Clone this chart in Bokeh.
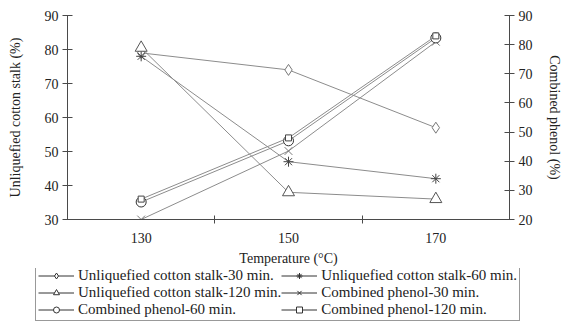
from bokeh.plotting import figure
from bokeh.models import Range1d, LinearAxis, FixedTicker, Legend, LegendItem
from bokeh.layouts import column
from bokeh.embed import file_html
from bokeh.resources import INLINE

temps = [130, 150, 170]
unliq_30 = [79, 74, 57]
unliq_60 = [78, 47, 42]
unliq_120 = [80.5, 38, 36]
phenol_30 = [20, 43.5, 81]
phenol_60 = [26, 47, 82.3]
phenol_120 = [27, 48, 83]

FONT = "Liberation Serif"
TXT = "#222222"
AX = "#4a4a4a"
LINE = "#8c8c8c"

p = figure(width=564, height=268, output_backend="svg", toolbar_location=None,
           x_range=Range1d(120, 180), y_range=Range1d(30, 90),
           min_border_left=67, min_border_right=51, min_border_top=15, min_border_bottom=49)
p.outline_line_color = None
p.grid.visible = False

p.extra_y_ranges = {"right": Range1d(20, 90)}
raxis = LinearAxis(y_range_name="right", ticker=FixedTicker(ticks=list(range(20, 91, 10))),
                   axis_label="Combined phenol (%)")
p.add_layout(raxis, "right")

xa = p.xaxis[0]
xa.ticker = FixedTicker(ticks=temps, minor_ticks=[140, 160])
xa.major_tick_out = 4
xa.minor_tick_in = 4
xa.minor_tick_out = 4
xa.major_label_standoff = 9
xa.axis_label = "Temperature (°C)"
xa.axis_label_standoff = 5

p.yaxis[0].ticker = FixedTicker(ticks=list(range(30, 91, 10)))
p.yaxis[0].axis_label = "Unliquefied cotton stalk (%)"

for ax in [xa, p.yaxis[0], raxis]:
    ax.axis_line_color = AX
    ax.major_tick_line_color = AX if ax is not xa else None
    ax.minor_tick_line_color = AX if ax is xa else None
    ax.major_label_text_font = FONT
    ax.major_label_text_font_size = "14px"
    ax.major_label_text_color = TXT
    ax.axis_label_text_font = FONT
    ax.axis_label_text_font_size = "14px"
    ax.axis_label_text_font_style = "normal"
    ax.axis_label_text_color = TXT
for ax in [p.yaxis[0], raxis]:
    ax.major_tick_in = 5
    ax.major_tick_out = 5
    ax.major_label_standoff = 4
p.yaxis[0].axis_label_standoff = 19
raxis.axis_label_standoff = 11

series = [
    ("Unliquefied cotton stalk-30 min.", unliq_30, "diamond", 11, "default", "#777777"),
    ("Unliquefied cotton stalk-60 min.", unliq_60, "asterisk", 10, "default", "#444444"),
    ("Unliquefied cotton stalk-120 min.", unliq_120, "triangle", 12, "default", "#555555"),
    ("Combined phenol-30 min.", phenol_30, "x", 11, "right", "#777777"),
    ("Combined phenol-60 min.", phenol_60, "circle", 10, "right", "#333333"),
    ("Combined phenol-120 min.", phenol_120, "square", 6, "right", "#444444"),
]

# legend strip: same series, drawn with off-screen ranges so only the legend shows
lg = figure(width=564, height=53, output_backend="svg", toolbar_location=None,
            x_axis_type=None, y_axis_type=None,
            x_range=Range1d(0, 1), y_range=Range1d(0, 1), min_border=0)
lg.outline_line_color = None
lg.grid.visible = False

try:
    lg.frame_align = False
    p.frame_align = False
    loc = (35, 0)
    fsize = "15px"
except Exception:
    loc = (0, 0)
    fsize = "13px"

items = []
for label, vals, marker, size, rng, mcol in series:
    p.line(temps, vals, line_color=LINE, line_width=1, y_range_name=rng)
    p.scatter(temps, vals, marker=marker, size=size, line_color=mcol, line_width=1,
              fill_color="white", fill_alpha=0.0 if marker in ("asterisk", "x") else 1.0,
              y_range_name=rng)
    l = lg.line(temps, vals, line_color="#333333", line_width=1)
    s = lg.scatter(temps, vals, marker=marker, size=size * 0.7, line_color="#333333",
                   line_width=1, fill_color="white",
                   fill_alpha=0.0 if marker in ("asterisk", "x") else 1.0)
    items.append(LegendItem(label=label, renderers=[l, s]))

legend = Legend(items=items, orientation="horizontal", ncols=2, location=loc,
                label_text_font=FONT, label_text_font_size=fsize, label_text_color=TXT,
                label_text_line_height=1.0,
                label_height=15, glyph_height=15, glyph_width=36, label_standoff=4,
                spacing=0, padding=2, margin=0,
                border_line_color="#333333", border_line_width=1,
                background_fill_alpha=1.0)
lg.add_layout(legend, "center")

layout = column(p, lg, spacing=0)
open("out.html", "w").write(file_html(layout, INLINE))
